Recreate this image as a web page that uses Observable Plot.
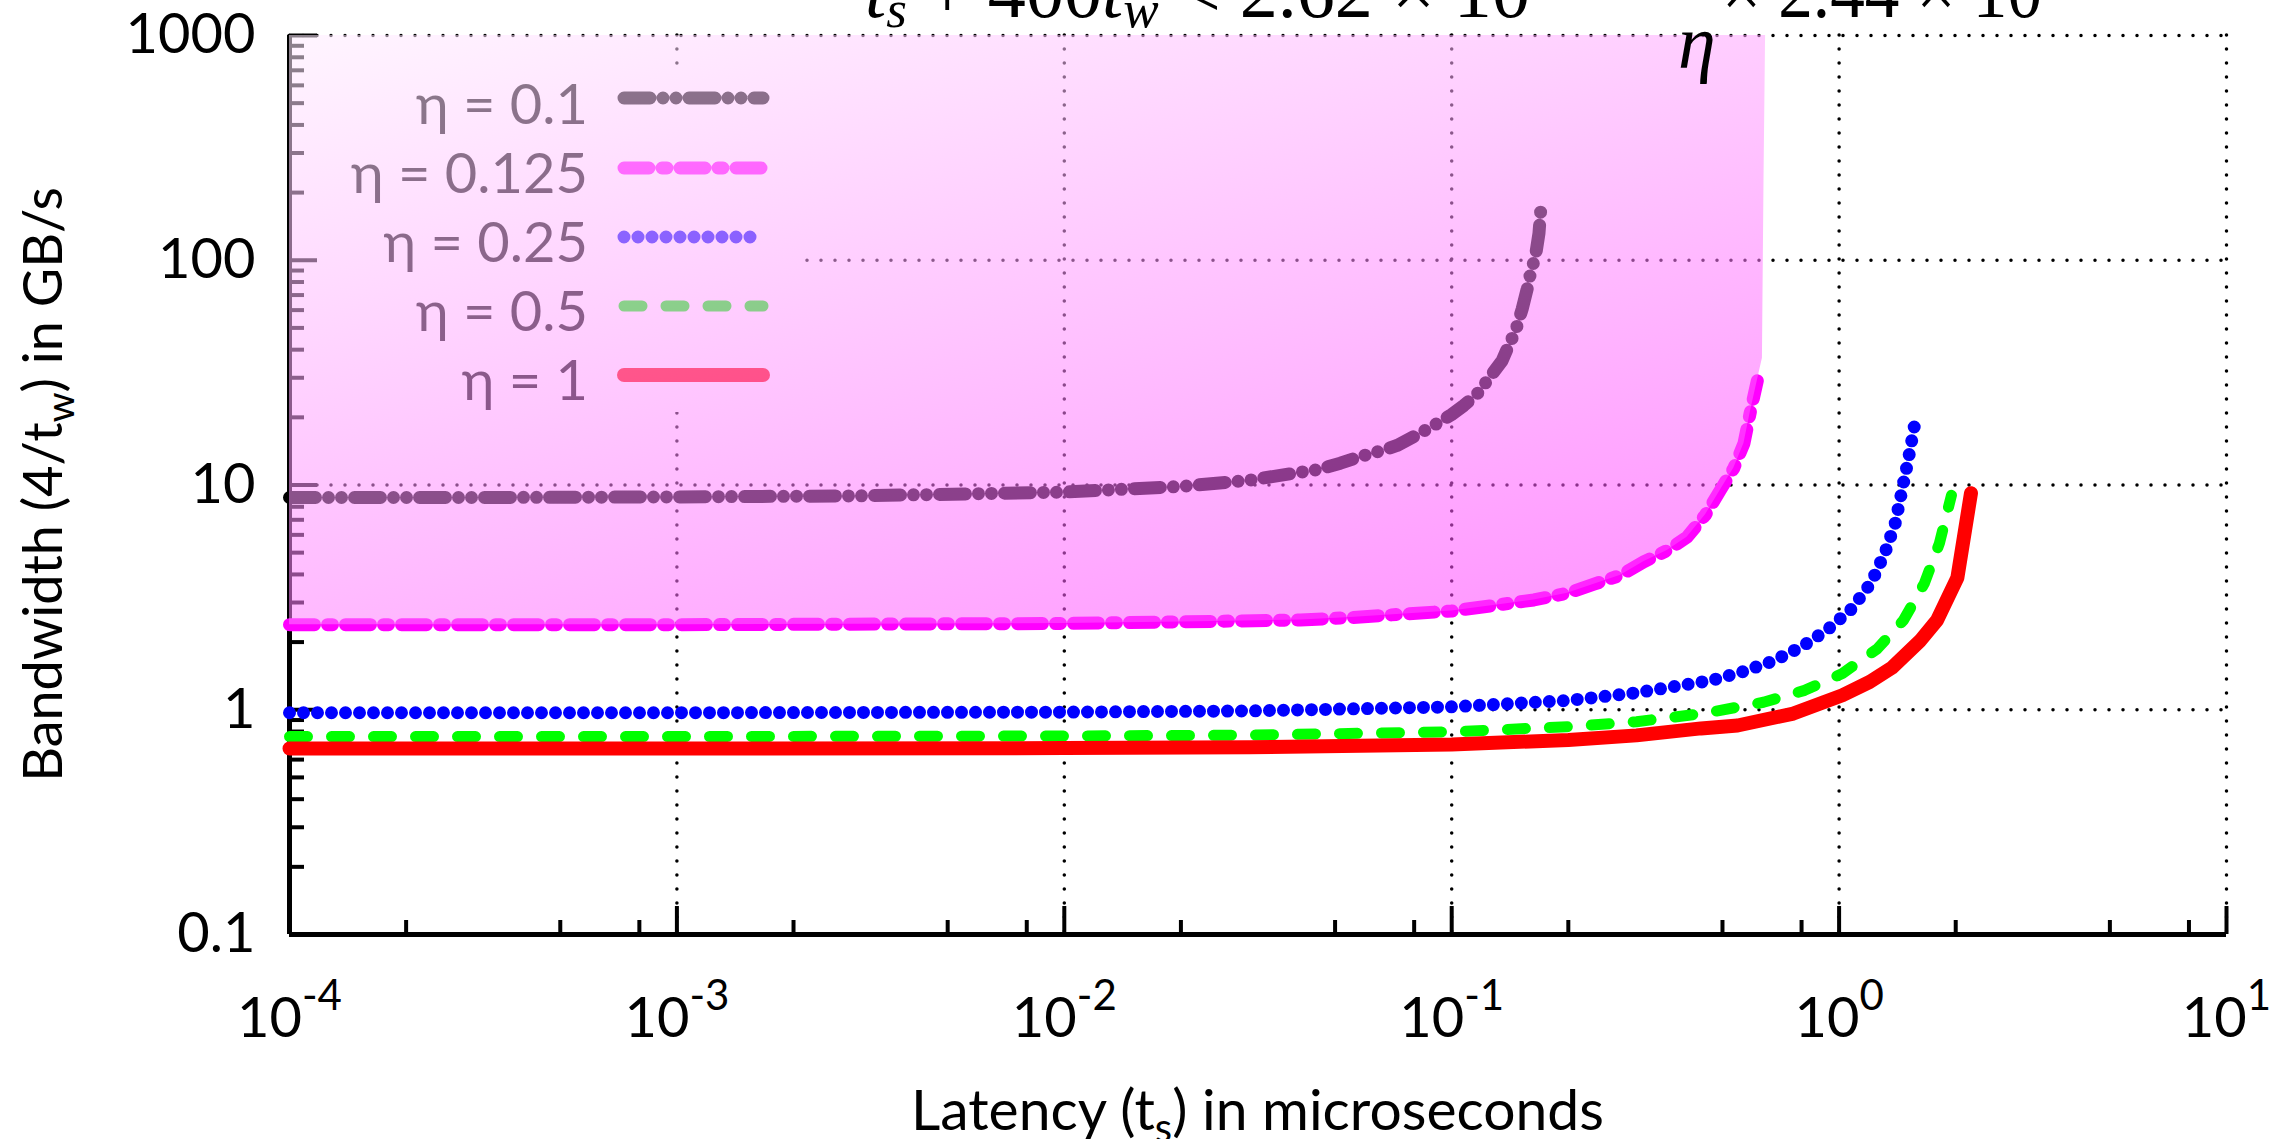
<!DOCTYPE html>
<html><head><meta charset="utf-8">
<script src="https://cdn.jsdelivr.net/npm/d3@7"></script>
<script src="https://cdn.jsdelivr.net/npm/@observablehq/plot@0.6"></script>
<style>
html,body{margin:0;padding:0;background:#fff;overflow:hidden;}
</style>
</head><body><div id="chart"></div>
<script>
// ---------- data ----------
const seriesNames = ["η = 0.1", "η = 0.125", "η = 0.25", "η = 0.5", "η = 1"];

const eta01T = [1e-4, 3e-4, 1e-3, 3e-3, 0.01, 0.02, 0.03, 0.0407, 0.045, 0.0516, 0.0581, 0.0668, 0.0723, 0.0798, 0.0899, 0.1, 0.1075, 0.1163, 0.126, 0.135, 0.1405, 0.146, 0.152, 0.1566, 0.1598, 0.1646, 0.168, 0.1695, 0.1702];
const eta01B = [8.8, 8.8, 8.85, 8.95, 9.3, 9.85, 10.5, 11.4, 11.7, 12.5, 13.4, 14.3, 15.0, 16.4, 18.4, 20.6, 22.6, 25.4, 30.5, 35.8, 42.0, 48.2, 60.6, 74.5, 87.5, 105, 132, 162, 172];

const eta0125T = [1e-4, 1e-3, 0.01, 0.02, 0.0407, 0.0548, 0.0738, 0.1, 0.134, 0.163, 0.199, 0.233, 0.273, 0.313, 0.36, 0.405, 0.452, 0.494, 0.535, 0.568, 0.59, 0.615];
const eta0125B = [2.39, 2.39, 2.42, 2.46, 2.51, 2.57, 2.66, 2.75, 2.94, 3.08, 3.3, 3.62, 3.97, 4.55, 5.11, 5.86, 7.37, 9.5, 11.9, 15.3, 21.1, 29.1];

const eta025T = [1e-4, 1e-3, 0.01, 0.03, 0.1, 0.2, 0.3, 0.467, 0.56, 0.671, 0.798, 0.933, 1.077, 1.212, 1.315, 1.396, 1.453, 1.509, 1.56, 1.57];
const eta025B = [0.97, 0.97, 0.976, 0.988, 1.03, 1.10, 1.19, 1.35, 1.47, 1.64, 1.90, 2.27, 2.81, 3.69, 5.02, 6.76, 9.45, 13.0, 17.8, 19.0];

const eta05T = [1e-4, 1e-3, 0.01, 0.03, 0.1, 0.2, 0.3, 0.45, 0.638, 0.815, 1.02, 1.256, 1.466, 1.66, 1.815, 1.95];
const eta05B = [0.76, 0.76, 0.764, 0.771, 0.798, 0.84, 0.885, 0.965, 1.08, 1.22, 1.45, 1.87, 2.5, 3.65, 5.5, 9.0];

const eta1T = [1e-4, 1e-3, 0.01, 0.03, 0.1, 0.2, 0.3, 0.44, 0.547, 0.762, 1.02, 1.2, 1.37, 1.62, 1.79, 2.02, 2.19];
const eta1B = [0.672, 0.672, 0.675, 0.681, 0.70, 0.734, 0.769, 0.826, 0.851, 0.962, 1.16, 1.33, 1.54, 2.03, 2.5, 3.87, 9.2];

// shaded feasible region: above the η = 0.125 curve, closing up to the top
const fillExtraT = [0.634, 0.64, 0.646];
const fillExtraB = [36.6, 229, 1000];
const fillTop = 1000;

// ticks
const xMajor = [1e-4, 1e-3, 1e-2, 1e-1, 1, 10];
const xMinor = [2e-4, 5e-4, 8e-4, 2e-3, 5e-3, 8e-3, 0.02, 0.05, 0.08, 0.2, 0.5, 0.8, 2, 5, 8];
const yMajor = [0.1, 1, 10, 100, 1000];
const yMinor = [0.2,0.3,0.4,0.5,0.6,0.7,0.8,0.9, 2,3,4,5,6,7,8,9, 20,30,40,50,60,70,80,90, 200,300,400,500,600,700,800,900];
const xGrid = [1e-3, 1e-2, 1e-1, 1, 10];
const yGrid = [1, 10, 100, 1000];

// ---------- styles ----------
const seriesStyles = [
  {stroke: "#000000", width: 13, dash: "26,13,0,13,0,13"},
  {stroke: "#ff00ff", width: 13, dash: "25,13,5,13"},
  {stroke: "#0000ff", width: 13, dash: "0,14"},
  {stroke: "#00ff00", width: 11, dash: "18,24"},
  {stroke: "#ff0000", width: 14, dash: null}
];

const seriesT = [eta01T, eta0125T, eta025T, eta05T, eta1T];
const seriesB = [eta01B, eta0125B, eta025B, eta05B, eta1B];
const seriesRows = seriesT.map((ts, i) => ts.map((t, j) => ({t, b: seriesB[i][j], s: seriesNames[i]})));

const fillRows = eta0125T.map((t, j) => ({t, lo: eta0125B[j], hi: fillTop}))
  .concat(fillExtraT.map((t, j) => ({t, lo: fillExtraB[j], hi: fillTop})));

const FONT = "Lato, 'Open Sans', 'Noto Sans', sans-serif";

const lineMarks = seriesRows.map((rows, i) => Plot.line(rows, {
  x: "t", y: "b",
  stroke: seriesStyles[i].stroke,
  strokeWidth: seriesStyles[i].width,
  strokeDasharray: seriesStyles[i].dash || undefined,
  strokeLinecap: "round",
  strokeLinejoin: "round"
}));

const svg = Plot.plot({
  width: 2285,
  height: 1139,
  marginLeft: 289,
  marginRight: 59,
  marginTop: 35,
  marginBottom: 205,
  x: {type: "log", domain: [1e-4, 10], label: null},
  y: {type: "log", domain: [0.1, 1000], label: null},
  style: {fontFamily: FONT, fontSize: "56px", background: "white", color: "black", overflow: "hidden"},
  marks: [
    Plot.ruleX(xGrid, {stroke: "black", strokeWidth: 3.5, strokeDasharray: "0,14", strokeLinecap: "round"}),
    Plot.ruleY(yGrid, {stroke: "black", strokeWidth: 3.5, strokeDasharray: "0,14", strokeLinecap: "round"}),
    Plot.ruleX([1e-4], {stroke: "black", strokeWidth: 5}),
    Plot.ruleY([0.1], {stroke: "black", strokeWidth: 5}),
    Plot.axisY({ticks: yMinor, tickSize: -15, tickFormat: () => "", label: null, strokeWidth: 4}),
    Plot.axisY({ticks: yMajor, tickSize: -28, tickPadding: 62, tickFormat: d => String(d), label: null, strokeWidth: 4}),
    Plot.axisX({ticks: xMinor, tickSize: -14, tickFormat: () => "", label: null, strokeWidth: 4}),
    Plot.axisX({ticks: xMajor, tickSize: -28, tickPadding: 91, tickFormat: d => "10|" + Math.round(Math.log10(d)), label: null, strokeWidth: 4}),
    ...lineMarks,
    Plot.areaY(fillRows, {x: "t", y1: "lo", y2: "hi", fill: "#ff99ff", fillOpacity: 0.545})
  ]
});
document.getElementById("chart").appendChild(svg);

// ---------- post-processing: gradient, legend, labels ----------
const NS = "http://www.w3.org/2000/svg";
function el(name, attrs, parent, text) {
  const e = document.createElementNS(NS, name);
  for (const k in attrs) e.setAttribute(k, attrs[k]);
  if (text != null) e.textContent = text;
  if (parent) parent.appendChild(e);
  return e;
}
const sx = svg.scale("x"), sy = svg.scale("y");
const X0 = sx.apply(1e-4), Y0 = sy.apply(1000);

// gradient for the shaded region
const defs = el("defs", {});
svg.insertBefore(defs, svg.firstChild);
const grad = el("linearGradient", {id: "fillgrad", gradientUnits: "userSpaceOnUse",
  x1: X0, y1: Y0, x2: X0 + 244, y2: Y0 + 916}, defs);
el("stop", {offset: "0", "stop-color": "rgb(255,237,255)"}, grad);
el("stop", {offset: "1", "stop-color": "rgb(255,53,255)"}, grad);
const areaG = svg.querySelector('g[aria-label="area"]');
areaG.setAttribute("fill", "url(#fillgrad)");
areaG.querySelectorAll("path").forEach(p => p.setAttribute("fill", "url(#fillgrad)"));

// legend box (opaque, hides grid) placed just above the grid
const rules = svg.querySelectorAll('g[aria-label="rule"]');
const box = el("rect", {x: X0, y: 65, width: 506, height: 347, fill: "white"});
rules[1].after(box);

// legend entries (under the shaded overlay)
const legendG = el("g", {});
const rowText = [124, 193, 262, 331, 400];
const rowLine = [98, 168, 237, 306, 375];
seriesNames.forEach((name, i) => {
  el("text", {x: 588, y: rowText[i], "text-anchor": "end", "font-family": FONT, "font-size": 56, fill: "black"}, legendG, name);
  const st = seriesStyles[i];
  const a = {x1: 624, x2: 763, y1: rowLine[i], y2: rowLine[i], stroke: st.stroke, "stroke-width": st.width, "stroke-linecap": "round"};
  if (st.dash) a["stroke-dasharray"] = st.dash;
  el("line", a, legendG);
});
areaG.before(legendG);

// x tick labels with superscripts
svg.querySelectorAll('g[aria-label="x-axis tick label"] text').forEach(t => {
  const s = t.textContent;
  if (!s.includes("|")) return;
  const [base, exp] = s.split("|");
  t.textContent = "";
  el("tspan", {}, t, base);
  el("tspan", {dy: -27, "font-size": 42}, t, exp);
});

// axis titles
const xl = el("text", {x: (X0 + sx.apply(10)) / 2, y: 1130, "text-anchor": "middle", "font-family": FONT, "font-size": 57, fill: "black"}, svg);
el("tspan", {}, xl, "Latency (t");
el("tspan", {dy: 12, "font-size": 40}, xl, "s");
el("tspan", {dy: -12}, xl, ") in microseconds");

const yl = el("text", {transform: `translate(62,${(Y0 + sy.apply(0.1)) / 2}) rotate(-90)`, "text-anchor": "middle", "font-family": FONT, "font-size": 54, fill: "black"}, svg);
el("tspan", {}, yl, "Bandwidth (4/t");
el("tspan", {dy: 12, "font-size": 38}, yl, "w");
el("tspan", {dy: -12}, yl, ") in GB/s");

// formula at the top (clipped by the page edge)
const SERIF = "'Liberation Serif', 'DejaVu Serif', serif";
const f1 = el("text", {x: 865, y: 17, "text-anchor": "start", "font-family": SERIF, "font-size": 76, fill: "black", textLength: 665, lengthAdjust: "spacingAndGlyphs"}, svg);
el("tspan", {"font-style": "italic"}, f1, "t");
el("tspan", {"font-style": "italic", "font-size": 53, dy: 10}, f1, "s");
el("tspan", {dy: -10}, f1, " + 400");
el("tspan", {"font-style": "italic"}, f1, "t");
el("tspan", {"font-style": "italic", "font-size": 53, dy: 10}, f1, "w");
el("tspan", {dy: -10}, f1, " < 2.62 × 10");
el("text", {x: 1722, y: 17, "text-anchor": "start", "font-family": SERIF, "font-size": 76, fill: "black", textLength: 320, lengthAdjust: "spacingAndGlyphs"}, svg, "× 2.44 × 10");
el("text", {x: 1678, y: 68, "text-anchor": "start", "font-family": SERIF, "font-size": 76, "font-style": "italic", fill: "black"}, svg, "η");
</script></body></html>
